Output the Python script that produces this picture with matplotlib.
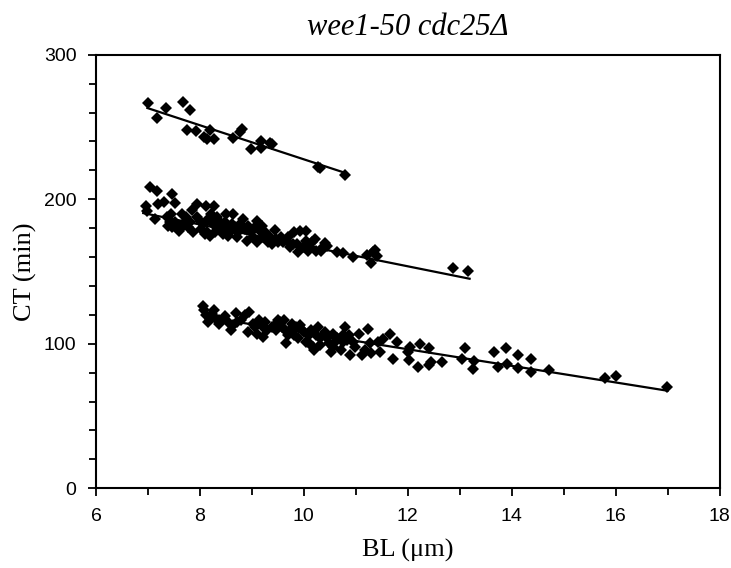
import matplotlib
matplotlib.use("Agg")
import matplotlib.pyplot as plt
from matplotlib.ticker import MultipleLocator

# upper group
top_x = [7.01, 7.17, 7.34, 7.67, 7.81, 7.76, 7.93, 8.19, 8.08, 8.13, 8.28,
         8.63, 8.78, 8.81, 8.99, 9.17, 9.17, 9.35, 9.39, 10.27, 10.31, 10.79]
top_y = [266.6, 256.2, 263.1, 267.5, 261.7, 248.1, 247.4, 248.1, 242.8, 241.6,
         241.4, 242.3, 246.7, 248.3, 234.7, 240.0, 235.4, 239.1, 238.2, 222.5,
         221.3, 217.0]

# middle group
mid_x = [7.04, 7.17, 7.47, 6.96, 6.99, 7.14, 7.20, 7.31, 7.53, 7.95, 7.85,
         8.12, 8.28, 7.45, 7.42, 7.47, 7.60, 7.65, 7.71, 7.78, 7.87, 7.94,
         8.06, 8.13, 8.19, 8.21, 8.32, 8.36, 8.45, 8.50, 8.48, 8.64, 8.61,
         8.58, 8.71, 8.82, 8.87, 8.90, 8.99, 9.10, 9.09, 9.15, 9.22, 9.31,
         9.38, 9.44, 9.47, 9.57, 9.67, 9.73, 9.81, 9.86, 9.89, 9.92, 10.05,
         10.04, 10.08, 10.22, 10.24, 10.34, 10.40, 10.63, 10.76, 10.95, 11.21,
         11.30, 11.33, 11.37, 11.40, 12.87, 13.15,
         7.36, 7.38, 7.52, 7.56, 7.68, 7.74, 7.81, 8.00, 8.03, 8.10, 8.16,
         8.26, 8.29, 8.38, 8.42, 8.51, 8.55, 8.67, 8.74, 8.77, 8.93, 9.03,
         9.06, 9.19, 9.25, 9.35, 9.50, 9.60, 9.69, 9.79, 9.99, 10.12, 10.15,
         10.37, 10.44]
mid_y = [208.6, 205.9, 203.6, 195.5, 192.0, 186.3, 196.7, 197.8, 197.1, 196.7,
         192.5, 195.0, 195.0, 189.7, 184.0, 180.5, 178.2, 189.7, 184.0, 180.5,
         177.0, 187.4, 182.8, 177.0, 174.7, 189.7, 187.4, 180.5, 175.9, 190.1,
         184.0, 189.7, 182.8, 177.0, 173.6, 186.3, 179.4, 171.3, 177.0, 184.7,
         170.1, 178.2, 173.6, 170.1, 169.0, 178.7, 172.4, 174.0, 171.3, 166.7,
         177.0, 169.0, 163.2, 178.2, 177.7, 171.3, 164.4, 172.4, 164.4, 164.4,
         169.4, 163.2, 162.7, 160.2, 161.6, 155.8, 163.2, 164.8, 160.9, 152.4,
         150.5,
         187.4, 181.7, 184.0, 181.7, 181.7, 187.4, 184.0, 185.1, 179.4, 175.9,
         186.3, 182.8, 177.0, 184.0, 179.4, 180.5, 174.7, 180.5, 177.0, 182.8,
         181.7, 173.6, 180.5, 181.7, 177.0, 173.6, 170.1, 170.1, 173.6, 169.0,
         166.7, 166.7, 170.1, 166.7, 167.9]

# lower group
low_x = [8.06, 8.08, 8.12, 8.20, 8.28, 8.32, 8.36, 8.48, 8.55, 8.59, 8.69,
         8.79, 8.87, 8.95, 8.93, 9.03, 9.10, 9.14, 9.22, 9.26, 9.38, 9.46,
         9.54, 9.58, 9.61, 9.69, 9.65, 9.77, 9.85, 9.93, 10.01, 10.05, 10.09,
         10.17, 10.20, 10.28, 10.32, 10.40, 10.48, 10.52, 10.56, 10.64, 10.72,
         10.75, 10.79, 10.87, 10.89, 10.95, 10.99, 11.07, 11.11, 11.17, 11.23,
         11.27, 11.30, 11.42, 11.46, 11.52, 11.66, 11.72, 11.80, 12.01, 12.02,
         12.05, 12.19, 12.23, 12.40, 12.40, 12.44, 12.66, 13.04, 13.10, 13.27,
         13.25, 13.66, 13.73, 13.90, 13.91, 14.12, 14.13, 14.37, 14.38, 14.72,
         15.80, 16.00, 16.99,
         9.46, 9.50, 9.61, 9.73, 9.97, 10.13, 10.24, 10.44, 10.60, 10.83,
         9.06, 9.22, 8.71, 8.36, 8.24, 8.16, 8.63, 9.30, 9.81, 9.89, 10.09,
         10.32, 10.56, 10.75]
low_y = [125.8, 123.1, 119.7, 117.4, 123.1, 116.2, 113.5, 119.0, 115.1, 109.8,
         121.5, 116.2, 119.7, 121.9, 108.2, 113.9, 107.1, 116.2, 104.8, 115.1,
         111.7, 109.4, 115.1, 111.7, 116.2, 105.9, 100.2, 113.9, 111.7, 112.8,
         108.2, 101.4, 105.9, 97.9, 95.7, 111.7, 103.7, 108.2, 100.2, 94.5,
         107.1, 103.7, 95.7, 101.4, 111.7, 106.0, 92.2, 101.4, 97.9, 107.1,
         92.2, 95.7, 110.5, 100.2, 93.4, 101.4, 94.5, 103.0, 107.1, 89.3,
         101.4, 94.5, 88.8, 97.9, 84.2, 99.5, 96.8, 85.4, 87.7, 87.7,
         89.3, 96.8, 88.1, 82.4, 94.1, 83.8, 96.8, 86.1, 92.2, 83.1,
         89.5, 80.8, 81.9, 76.2, 77.4, 69.8,
         113.9, 116.7, 110.5, 109.4, 109.4, 109.4, 105.9, 103.7, 101.4, 102.5,
         111.7, 111.7, 115.1, 116.2, 120.3, 115.1, 112.8, 109.4, 105.9, 103.7,
         100.2, 99.1, 97.9, 106.0]

# regression lines (end points as drawn)
top_line_x = [6.99, 10.79]
top_line_y = [263.1, 218.3]
mid_line_x = [6.91, 13.19]
mid_line_y = [190.4, 145.0]
low_line_x = [8.12, 17.0]
low_line_y = [118.5, 67.5]

fig = plt.figure(figsize=(7.31, 5.68), dpi=100)
ax = fig.add_axes([0.1313, 0.1403, 0.8530, 0.7634])

for xs, ys in [(top_x, top_y), (mid_x, mid_y), (low_x, low_y)]:
    ax.plot(xs, ys, linestyle='none', marker='D', markersize=5.8,
            color='black', markeredgewidth=0)
for lx, ly in [(top_line_x, top_line_y), (mid_line_x, mid_line_y),
               (low_line_x, low_line_y)]:
    ax.plot(lx, ly, color='black', linewidth=1.6)

ax.set_xlim(6, 18)
ax.set_ylim(0, 300)
ax.xaxis.set_major_locator(MultipleLocator(2))
ax.xaxis.set_minor_locator(MultipleLocator(1))
ax.yaxis.set_major_locator(MultipleLocator(100))
ax.yaxis.set_minor_locator(MultipleLocator(20))
ax.tick_params(which='major', direction='out', length=6, width=1.3,
               labelsize=14, top=False, right=False, pad=8)
ax.tick_params(which='minor', direction='out', length=5, width=1.3,
               top=False, right=False)
for lab in ax.get_xticklabels() + ax.get_yticklabels():
    lab.set_fontfamily('Liberation Sans')
for sp in ax.spines.values():
    sp.set_linewidth(1.5)

ax.set_xlabel('BL (μm)', fontfamily='Liberation Serif', fontsize=19,
              labelpad=10)
ax.set_ylabel('CT (min)', fontfamily='Liberation Serif', fontsize=19,
              labelpad=5)
ax.set_title('wee1-50 cdc25Δ', fontfamily='Liberation Serif',
             fontstyle='italic', fontsize=22, pad=14)

fig.savefig('out.png', dpi=100)
